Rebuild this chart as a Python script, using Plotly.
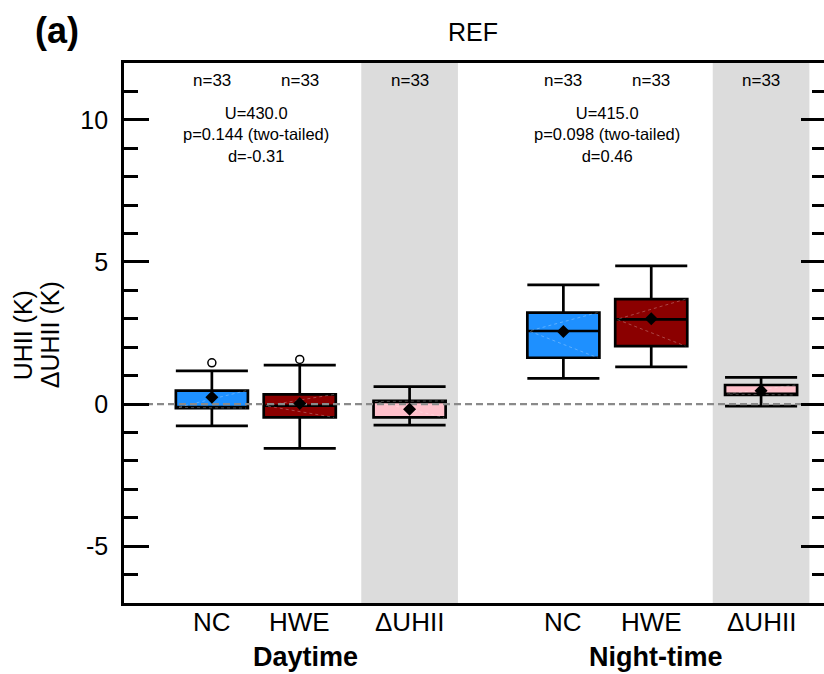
import plotly.graph_objects as go

# ---------------- data ----------------
labels = ["NC", "HWE", "ΔUHII", "NC", "HWE", "ΔUHII"]
positions = [1.0, 2.0, 3.25, 5.0, 6.0, 7.25]
q1 = [-0.14, -0.47, -0.47, 1.63, 2.04, 0.32]
median = [-0.12, -0.06, 0.09, 2.57, 2.98, 0.35]
q3 = [0.47, 0.34, 0.11, 3.22, 3.69, 0.67]
lower_whisker = [-0.77, -1.56, -0.74, 0.90, 1.31, -0.07]
upper_whisker = [1.17, 1.37, 0.61, 4.19, 4.86, 0.94]
means = [0.24, 0.02, -0.18, 2.55, 3.00, 0.47]
outlier_x_idx = [0, 1]
outlier_y = [1.45, 1.57]
n_labels = ["n=33"] * 6
fill_colors = ["#1E90FF", "#8B0000", "#FFC0CB", "#1E90FF", "#8B0000", "#FFC0CB"]
y_tick_vals = [-5, 0, 5, 10]
y_tick_text = ["-5", "0", "5", "10"]

stats_day = ["U=430.0", "p=0.144 (two-tailed)", "d=-0.31"]
stats_night = ["U=415.0", "p=0.098 (two-tailed)", "d=0.46"]
group_names = ["Daytime", "Night-time"]

box_width = 0.82
FONT = "Liberation Sans, Arial, Helvetica, sans-serif"

fig = go.Figure()

# shaded ΔUHII columns
for i, lab in enumerate(labels):
    if lab == "ΔUHII":
        fig.add_shape(type="rect", xref="x", yref="paper",
                      x0=positions[i] - 0.55, x1=positions[i] + 0.55, y0=0, y1=1,
                      fillcolor="#DCDCDC", line=dict(width=0), layer="below")

for i in range(len(labels)):
    fig.add_trace(go.Box(
        x=[positions[i]], q1=[q1[i]], median=[median[i]], q3=[q3[i]],
        lowerfence=[lower_whisker[i]], upperfence=[upper_whisker[i]],
        width=box_width, whiskerwidth=1, fillcolor=fill_colors[i],
        line=dict(color="black", width=2.7), boxpoints=False,
        showlegend=False, hoverinfo="skip"))

# faint dotted diagonal lines inside boxes
for i in range(len(labels)):
    xl = positions[i] - box_width / 2 + 0.02
    xr = positions[i] + box_width / 2 - 0.02
    fig.add_trace(go.Scatter(
        x=[xr, xl, xr], y=[q3[i], median[i], q1[i]], mode="lines",
        line=dict(color="rgba(255,255,255,0.28)", width=1, dash="dot"),
        showlegend=False, hoverinfo="skip"))

# zero reference line
fig.add_trace(go.Scatter(
    x=[0, 8], y=[0, 0], mode="lines",
    line=dict(color="#8a8a8a", width=2.2, dash="7px,4px"),
    showlegend=False, hoverinfo="skip"))

# means
fig.add_trace(go.Scatter(
    x=positions, y=means, mode="markers",
    marker=dict(symbol="diamond", size=10, color="black"),
    showlegend=False, hoverinfo="skip"))

# outliers
fig.add_trace(go.Scatter(
    x=[positions[k] for k in outlier_x_idx], y=outlier_y, mode="markers",
    marker=dict(symbol="circle", size=8, color="white",
                line=dict(color="black", width=1.5)),
    showlegend=False, hoverinfo="skip"))

# invisible trace to activate the right-hand tick axis
fig.add_trace(go.Scatter(x=[positions[0]], y=[0], yaxis="y2", mode="markers",
                         marker=dict(opacity=0), showlegend=False, hoverinfo="skip"))

ann = []
for i in range(len(labels)):
    ann.append(dict(x=positions[i], y=11.38, xref="x", yref="y", text=n_labels[i],
                    showarrow=False, xanchor="center",
                    font=dict(size=17, color="black", family=FONT)))
    ann.append(dict(x=positions[i], y=-0.035, xref="x", yref="paper", text=labels[i],
                    showarrow=False, xanchor="center", yanchor="middle",
                    font=dict(size=26, color="black", family=FONT)))
for center, lines in [((positions[0] + positions[1]) / 2, stats_day),
                      ((positions[3] + positions[4]) / 2, stats_night)]:
    ann.append(dict(x=center, y=9.5, xref="x", yref="y", text="<br>".join(lines),
                    showarrow=False, xanchor="center", yanchor="middle",
                    font=dict(size=16.5, color="black", family=FONT)))
for xc, name in [(2.07, group_names[0]), (6.05, group_names[1])]:
    ann.append(dict(x=xc, y=-0.1, xref="x", yref="paper", text="<b>%s</b>" % name,
                    showarrow=False, xanchor="center", yanchor="middle",
                    font=dict(size=27, color="black", family=FONT)))
ann.append(dict(x=0.498, y=1.057, xref="paper", yref="paper", text="REF", showarrow=False,
                xanchor="center", yanchor="middle",
                font=dict(size=25, color="black", family=FONT)))
ann.append(dict(x=-0.0956, y=1.061, xref="paper", yref="paper", text="<b>(a)</b>",
                showarrow=False, xanchor="center", yanchor="middle",
                font=dict(size=36, color="black", family=FONT)))
ann.append(dict(x=-0.144, y=0.496, xref="paper", yref="paper", text="UHII (K)",
                showarrow=False, textangle=-90, xanchor="center", yanchor="middle",
                font=dict(size=25, color="black", family=FONT)))
ann.append(dict(x=-0.1056, y=0.496, xref="paper", yref="paper", text="ΔUHII (K)",
                showarrow=False, textangle=-90, xanchor="center", yanchor="middle",
                font=dict(size=25, color="black", family=FONT)))

fig.update_layout(
    width=824, height=674,
    margin=dict(l=124, r=0, t=63, b=71, pad=0),
    paper_bgcolor="white", plot_bgcolor="white",
    boxmode="overlay",
    annotations=ann,
    font=dict(family=FONT, color="black"),
    xaxis=dict(range=[0, 7.966], showgrid=False, zeroline=False,
               showline=True, linecolor="black", linewidth=2.7, mirror=True,
               ticks="", showticklabels=False),
    yaxis=dict(range=[-7, 12], showgrid=False, zeroline=False,
               showline=True, linecolor="black", linewidth=2.7, mirror=False,
               ticks="inside", ticklen=25, tickwidth=2.5, tickcolor="black",
               tickmode="array", tickvals=y_tick_vals, ticktext=y_tick_text,
               minor=dict(ticks="inside", ticklen=14, tickwidth=2.5, tickcolor="black",
                          dtick=1, tick0=0, showgrid=False),
               tickfont=dict(size=25, color="black", family=FONT),
               ticklabelstandoff=8),
    yaxis2=dict(range=[-7, 12], overlaying="y", side="right", showgrid=False,
                zeroline=False, showline=False, showticklabels=False,
                ticks="inside", ticklen=23, tickwidth=2.5, tickcolor="black",
                tick0=0, dtick=5,
                minor=dict(ticks="inside", ticklen=12, tickwidth=2.5, tickcolor="black",
                           dtick=1, tick0=0, showgrid=False)),
)

fig.write_html("out.html")
